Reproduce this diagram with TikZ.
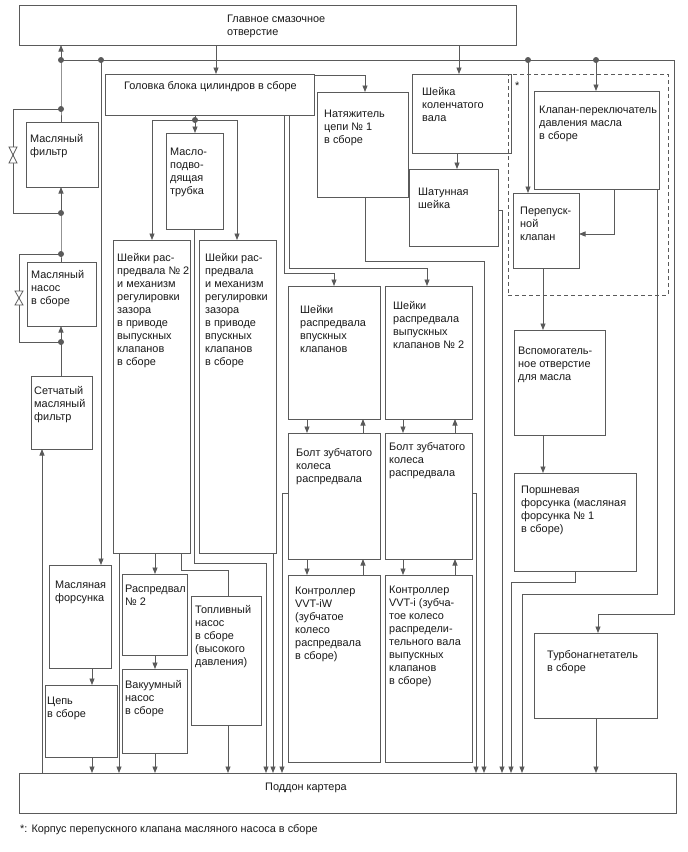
\documentclass[tikz,border=0pt]{standalone}
\usepackage{fontspec}
\setmainfont{Liberation Sans}
\usetikzlibrary{arrows.meta,fit}
\definecolor{lgray}{HTML}{5A5A5A}
\tikzset{
 box/.style={draw=lgray, line width=0.8pt, inner sep=0pt, outer sep=0pt},
 wire/.style={draw=lgray, line width=0.8pt},
 arr/.style={wire, -{Triangle[length=6.5pt,width=5pt]}},
 dot/.style={circle, fill=lgray, inner sep=0pt, minimum size=6pt},
 txt/.style={inner sep=0pt, font=\fontsize{10.9}{13}\selectfont, text=black!90},
 dashbox/.style={draw=lgray, line width=0.8pt, dash pattern=on 4pt off 3pt},
}
\newcommand\bx[5]{\node[box, fit={(#2,#3) (#4,#5)}] (#1) {};}
\newcommand\tl[4]{\node[txt, anchor=base west] (#1) at (#2,#3) {\begin{tabular}[t]{@{}l@{}}#4\end{tabular}};}
\begin{document}
\begin{tikzpicture}[x=1pt,y=-1pt]
\fill[white] (0,0) rectangle (688,852);
\useasboundingbox (0,0) rectangle (688,852);
% boxes
\bx{main}{19}{5}{516}{45}
\bx{head}{105}{74}{314}{115}
\bx{tens}{317}{92}{408}{197}
\bx{crank}{412}{74}{511}{153}
\bx{rod}{409}{169}{498}{246}
\bx{sw}{534}{91}{659}{189}
\bx{byp}{513}{193}{579}{268}
\node[dashbox, inner sep=0pt, fit={(508,74) (668,295)}] (dash) {};
\bx{filt}{26}{122}{98}{187}
\bx{pump}{27}{262}{96}{326}
\bx{strainer}{31}{376}{92}{449}
\bx{tube}{166}{133}{223}{229}
\bx{camA}{113}{240}{190}{553}
\bx{camB}{199}{240}{276}{553}
\bx{inj}{288}{286}{380}{419}
\bx{exj}{385}{286}{472}{419}
\bx{bolti}{288}{433}{380}{559}
\bx{bolte}{385}{433}{472}{559}
\bx{vvtiw}{288}{575}{380}{762}
\bx{vvti}{385}{575}{472}{762}
\bx{aux}{514}{330}{605}{435}
\bx{piston}{514}{473}{636}{571}
\bx{jet}{49}{565}{111}{668}
\bx{chain}{45}{685}{117}{757}
\bx{cam2}{122}{574}{187}{655}
\bx{vac}{122}{669}{187}{753}
\bx{fuel}{191}{596}{261}{725}
\bx{turbo}{534}{633}{657}{718}
\bx{pan}{19}{773}{676}{813}
% texts
\tl{t-main}{227}{22}{Главное смазочное\\отверстие}
\tl{t-head}{124}{89}{Головка блока цилиндров в сборе}
\tl{t-tens}{324}{117}{Натяжитель\\цепи № 1\\в сборе}
\tl{t-crank}{422}{95}{Шейка\\коленчатого\\вала}
\tl{t-sw}{539}{113}{Клапан-переключатель\\давления масла\\в сборе}
\tl{t-filt}{30}{142}{Масляный\\фильтр}
\tl{t-tube}{170}{155}{Масло-\\подво-\\дящая\\трубка}
\tl{t-camA}{117}{261}{Шейки рас-\\предвала № 2\\и механизм\\регулировки\\зазора\\в приводе\\выпускных\\клапанов\\в сборе}
\tl{t-camB}{205}{261}{Шейки рас-\\предвала\\и механизм\\регулировки\\зазора\\в приводе\\впускных\\клапанов\\в сборе}
\tl{t-pump}{31}{278}{Масляный\\насос\\в сборе}
\tl{t-str}{34}{394}{Сетчатый\\масляный\\фильтр}
\tl{t-rod}{418}{195}{Шатунная\\шейка}
\tl{t-byp}{520}{214}{Перепуск-\\ной\\клапан}
\tl{t-inj}{300}{313}{Шейки\\распредвала\\впускных\\клапанов}
\tl{t-exj}{393}{309}{Шейки\\распредвала\\выпускных\\клапанов № 2}
\tl{t-aux}{518}{354}{Вспомогатель-\\ное отверстие\\для масла}
\tl{t-bolti}{296}{456}{Болт зубчатого\\колеса\\распредвала}
\tl{t-bolte}{389}{450}{Болт зубчатого\\колеса\\распредвала}
\tl{t-piston}{521}{493}{Поршневая\\форсунка (масляная\\форсунка № 1\\в сборе)}
\tl{t-jet}{55}{588}{Масляная\\форсунка}
\tl{t-cam2}{125}{592}{Распредвал\\№ 2}
\tl{t-fuel}{195}{613}{Топливный\\насос\\в сборе\\(высокого\\давления)}
\tl{t-vvtiw}{295}{594}{Контроллер\\VVT-iW\\(зубчатое\\колесо\\распредвала\\в сборе)}
\tl{t-vvti}{389}{593}{Контроллер\\VVT-i (зубча-\\тое колесо\\распредели-\\тельного вала\\выпускных\\клапанов\\в сборе)}
\tl{t-turbo}{547}{658}{Турбонагнетатель\\в сборе}
\tl{t-chain}{47}{704}{Цепь\\в сборе}
\tl{t-vac}{125}{688}{Вакуумный\\насос\\в сборе}
\tl{t-pan}{265}{790}{Поддон картера}
\tl{t-note}{20}{832}{*: Корпус перепускного клапана масляного насоса в сборе}
\tl{t-star}{515}{89}{*}
% connectors
\draw[arr] (main.south -| 216,0) -- (head.north -| 216,0);
\draw[arr] (main.south -| 459,0) -- (crank.north -| 459,0);
\node[dot] (dA) at (61,60) {};
\node[dot] (dB) at (101,60) {};
\node[dot] (dC) at (528,60) {};
\node[dot] (dD) at (596,60) {};
\coordinate (cR) at (674,60);
\draw[wire] (dA.center) -- (cR);
\draw[arr] (cR) |- (598,614) -- (turbo.north -| 598,0);
\draw[arr] (dA.center) -- (main.south -| dA);
\node[dot] (d1) at (61,109) {};
\node[dot] (d2) at (61,213) {};
\node[dot] (d3) at (61,254) {};
\node[dot] (d4) at (61,342) {};
\draw[wire] (dA.center) -- (d1.center) -- (filt.north -| d1);
\draw[wire] (d1.center) -| (13,213) -- (d2.center);
\draw[arr] (d2.center) -- (filt.south -| d2);
\draw[wire] (d2.center) -- (d3.center) -- (pump.north -| d3);
\draw[wire] (d3.center) -| (19,342) -- (d4.center);
\draw[arr] (d4.center) -- (pump.south -| d4);
\draw[wire] (d4.center) -- (strainer.north -| d4);
\draw[arr] (pan.north -| 42,0) -- (strainer.south -| 42,0);
\draw[wire, fill=white] (9,147) -- (17,147) -- (9,163) -- (17,163) -- cycle;
\draw[wire, fill=white] (15,291) -- (23,291) -- (15,305) -- (23,305) -- cycle;
\draw[arr] (dB.center) -- (jet.north -| dB);
\draw[arr] (jet.south -| 92,0) -- (chain.north -| 92,0);
\draw[arr] (chain.south -| 92,0) -- (pan.north -| 92,0);
\node[dot] (d5) at (195,120) {};
\draw[wire] (head.south -| d5) -- (d5.center);
\draw[arr] (d5.center) -- (tube.north -| d5);
\coordinate (bl) at (152,120);
\coordinate (br) at (237,120);
\draw[wire] (bl) -- (br);
\draw[arr] (bl) -- (camA.north -| bl);
\draw[arr] (br) -- (camB.north -| br);
\draw[arr] (tube.south -| 194,0) |- (266,563) -- (pan.north -| 266,0);
\draw[arr] (camB.south -| 273,0) -- (pan.north -| 273,0);
\draw[arr] (camA.south -| 119,0) -- (pan.north -| 119,0);
\draw[arr] (camA.south -| 155,0) -- (cam2.north -| 155,0);
\draw[wire] (camA.south -| 181,0) |- (228,570) -- (fuel.north -| 228,0);
\draw[arr] (cam2.south -| 155,0) -- (vac.north -| 155,0);
\draw[arr] (vac.south -| 155,0) -- (pan.north -| 155,0);
\draw[arr] (fuel.south -| 228,0) -- (pan.north -| 228,0);
\draw[arr] (head.east |- 0,75) -| (tens.north -| 365,0);
\draw[arr] (tens.south -| 365,0) |- (484,261) -- (pan.north -| 484,0);
\draw[arr] (head.south -| 289,0) |- (427,268) -- (exj.north -| 427,0);
\draw[arr] (head.south -| 284,0) |- (334,273) -- (inj.north -| 334,0);
\draw[arr] (inj.south -| 307,0) -- (bolti.north -| 307,0);
\draw[arr] (bolti.north -| 363,0) -- (inj.south -| 363,0);
\draw[arr] (bolti.south -| 307,0) -- (vvtiw.north -| 307,0);
\draw[arr] (vvtiw.north -| 363,0) -- (bolti.south -| 363,0);
\draw[arr] (exj.south -| 403,0) -- (bolte.north -| 403,0);
\draw[arr] (bolte.north -| 455,0) -- (exj.south -| 455,0);
\draw[arr] (bolte.south -| 403,0) -- (vvti.north -| 403,0);
\draw[arr] (vvti.north -| 455,0) -- (bolte.south -| 455,0);
\draw[arr] (bolti.west |- 0,493) -| (pan.north -| 282,0);
\draw[arr] (bolte.east |- 0,493) -| (pan.north -| 476,0);
\draw[arr] (crank.south -| 457,0) -- (rod.north -| 457,0);
\draw[arr] (rod.east |- 0,210) -| (pan.north -| 502,0);
\draw[arr] (dC.center) -- (byp.north -| dC);
\draw[arr] (dD.center) -- (sw.north -| dD);
\draw[arr] (sw.south -| 614,0) |- (byp.east |- 0,234);
\draw[arr] (sw.south -| 657,0) |- (522,594) -- (pan.north -| 522,0);
\draw[arr] (byp.south -| 543,0) -- (aux.north -| 543,0);
\draw[arr] (aux.south -| 543,0) -- (piston.north -| 543,0);
\draw[arr] (piston.south -| 575,0) |- (511,582) -- (pan.north -| 511,0);
\draw[arr] (turbo.south -| 596,0) -- (pan.north -| 596,0);
\end{tikzpicture}
\end{document}
